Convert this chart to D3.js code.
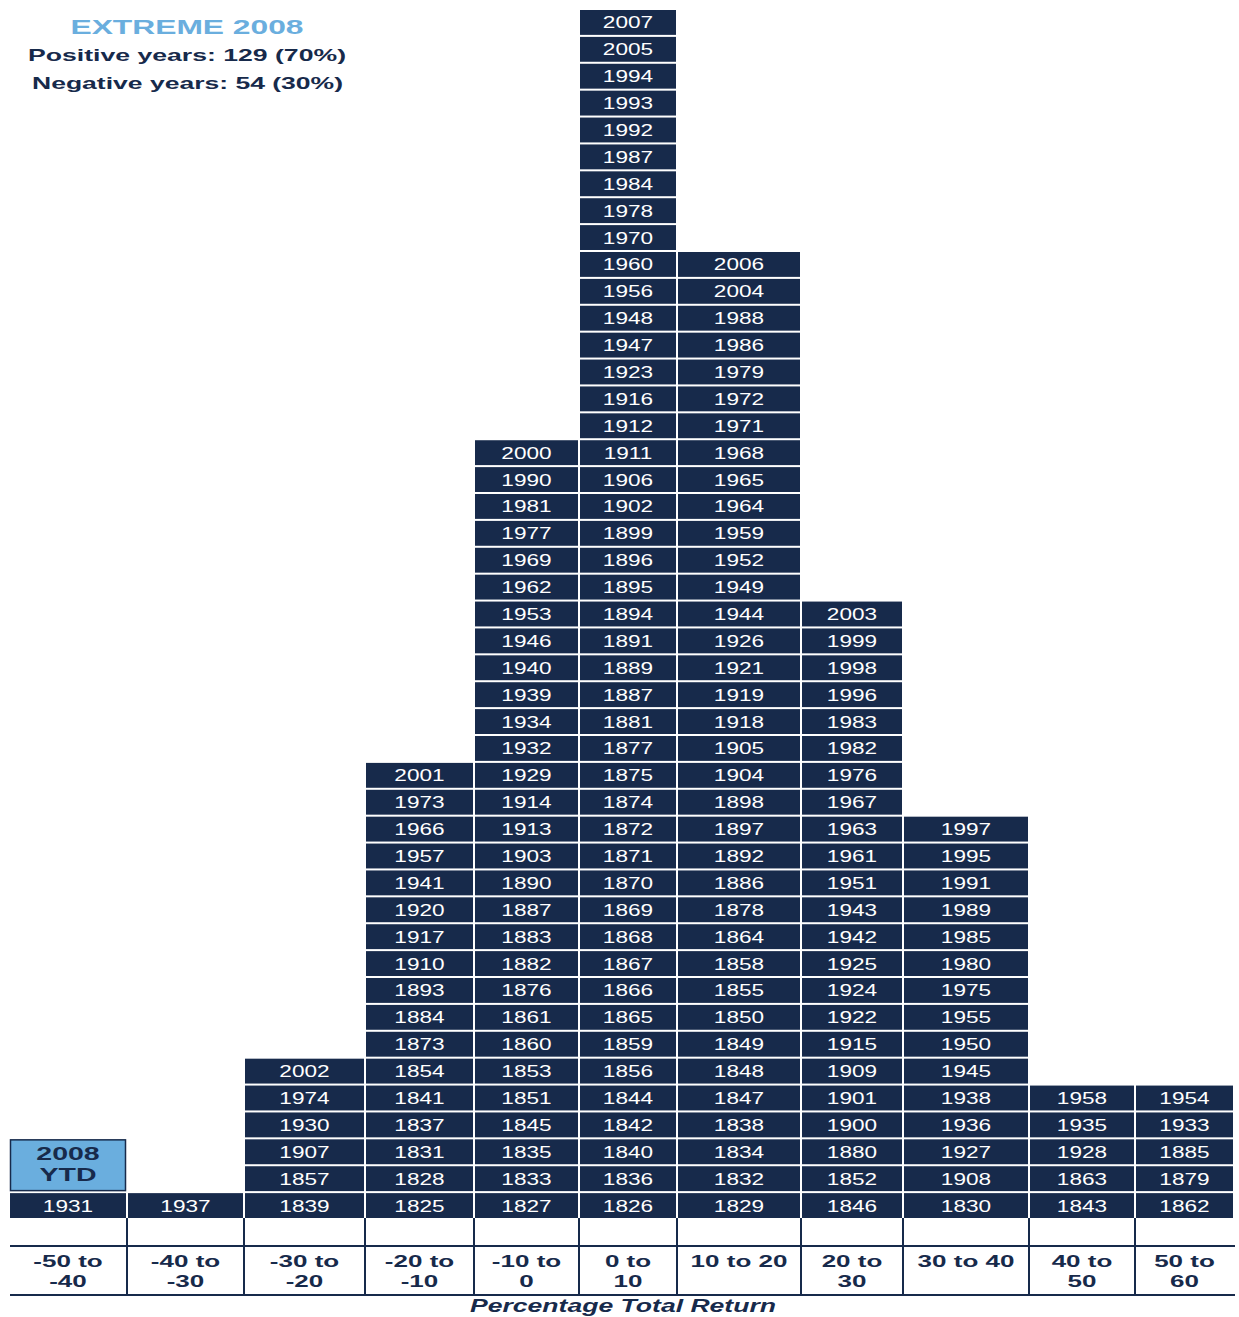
<!DOCTYPE html>
<html><head><meta charset="utf-8">
<script src="https://cdn.jsdelivr.net/npm/d3@7"></script>
<style>html,body{margin:0;padding:0;background:#fff;}svg{display:block;}</style>
</head><body><svg id="chart" width="1239" height="1317"></svg>
<script>
// ---- data ----
const bins = ["-50 to -40","-40 to -30","-30 to -20","-20 to -10","-10 to 0","0 to 10","10 to 20","20 to 30","30 to 40","40 to 50","50 to 60"];
const binLabels = [["-50 to","-40"],["-40 to","-30"],["-30 to","-20"],["-20 to","-10"],["-10 to","0"],["0 to","10"],["10 to 20"],["20 to","30"],["30 to 40"],["40 to","50"],["50 to","60"]];
// years per bin, listed from bottom to top
const yearsM50 = [1931];
const yearsM40 = [1937];
const yearsM30 = [1839,1857,1907,1930,1974,2002];
const yearsM20 = [1825,1828,1831,1837,1841,1854,1873,1884,1893,1910,1917,1920,1941,1957,1966,1973,2001];
const yearsM10 = [1827,1833,1835,1845,1851,1853,1860,1861,1876,1882,1883,1887,1890,1903,1913,1914,1929,1932,1934,1939,1940,1946,1953,1962,1969,1977,1981,1990,2000];
const yearsP0  = [1826,1836,1840,1842,1844,1856,1859,1865,1866,1867,1868,1869,1870,1871,1872,1874,1875,1877,1881,1887,1889,1891,1894,1895,1896,1899,1902,1906,1911,1912,1916,1923,1947,1948,1956,1960,1970,1978,1984,1987,1992,1993,1994,2005,2007];
const yearsP10 = [1829,1832,1834,1838,1847,1848,1849,1850,1855,1858,1864,1878,1886,1892,1897,1898,1904,1905,1918,1919,1921,1926,1944,1949,1952,1959,1964,1965,1968,1971,1972,1979,1986,1988,2004,2006];
const yearsP20 = [1846,1852,1880,1900,1901,1909,1915,1922,1924,1925,1942,1943,1951,1961,1963,1967,1976,1982,1983,1996,1998,1999,2003];
const yearsP30 = [1830,1908,1927,1936,1938,1945,1950,1955,1975,1980,1985,1989,1991,1995,1997];
const yearsP40 = [1843,1863,1928,1935,1958];
const yearsP50 = [1862,1879,1885,1933,1954];
const yearsByBin = [yearsM50,yearsM40,yearsM30,yearsM20,yearsM10,yearsP0,yearsP10,yearsP20,yearsP30,yearsP40,yearsP50];
const highlight = {bin:"-50 to -40", label:["2008","YTD"], rowFrom:1, rowTo:2};
const titleText = "EXTREME 2008";
const positiveText = "Positive years: 129 (70%)";
const negativeText = "Negative years: 54 (30%)";
const axisTitle = "Percentage Total Return";

// ---- layout ----
const NAVY = "#172a4b", LIGHT = "#6aaede";
const colEdges = [10,128,245,366,475,580,678,802,904,1030,1136,1235];
const svg = d3.select("#chart");
const xLeft = d3.scaleOrdinal().domain(bins).range(colEdges.slice(0,-1));
const xWidth = b => colEdges[bins.indexOf(b)+1] - xLeft(b) - 2;
const maxRows = d3.max(yearsByBin, a => a.length);
const y = d3.scaleBand().domain(d3.range(maxRows)).range([1218, 10]).paddingInner(0.075).paddingOuter(0);

const cells = [];
bins.forEach((b,i) => yearsByBin[i].forEach((yr,k) => cells.push({bin:b, row:k, year:yr})));

const g = svg.append("g");
g.selectAll("rect.cell").data(cells).join("rect")
  .attr("class","cell")
  .attr("x", d => xLeft(d.bin)).attr("y", d => y(d.row))
  .attr("width", d => xWidth(d.bin)).attr("height", y.bandwidth())
  .attr("fill", NAVY);
g.selectAll("text.yr").data(cells).join("text")
  .attr("class","yr")
  .attr("transform", d => `translate(${xLeft(d.bin)+xWidth(d.bin)/2},${y(d.row)+y.bandwidth()/2+6}) scale(1.33,1)`)
  .attr("text-anchor","middle")
  .attr("font-family","Liberation Sans, Arial, sans-serif")
  .attr("font-size",17).attr("fill","#fff")
  .text(d => d.year);

// highlight box
const hTop = y(highlight.rowTo), hBot = y(highlight.rowFrom)+y.bandwidth();
g.append("rect").attr("x", xLeft(highlight.bin)+0.5).attr("y", hTop+0.5)
  .attr("width", xWidth(highlight.bin)-1).attr("height", hBot-hTop-1)
  .attr("fill", LIGHT).attr("stroke", NAVY).attr("stroke-width",1.5);
const hc = xLeft(highlight.bin)+xWidth(highlight.bin)/2;
highlight.label.forEach((t,i) => {
  g.append("text").attr("transform", `translate(${hc},${hTop+21+i*21}) scale(1.5,1)`)
   .attr("text-anchor","middle").attr("font-family","Liberation Sans, Arial, sans-serif")
   .attr("font-weight","bold").attr("font-size",19).attr("fill",NAVY).text(t);
});

// axis area
const axisTop = 1218, axisMid = 1246, axisBot = 1295;
const ax = svg.append("g");
colEdges.slice(1,-1).forEach(e => {
  ax.append("line").attr("x1",e-1).attr("x2",e-1).attr("y1",axisTop).attr("y2",axisBot)
    .attr("stroke",NAVY).attr("stroke-width",2);
});
[axisMid, axisBot].forEach(yy => ax.append("line").attr("x1",10).attr("x2",1235)
  .attr("y1",yy).attr("y2",yy).attr("stroke",NAVY).attr("stroke-width",2));
bins.forEach((b,i) => {
  binLabels[i].forEach((t,j) => {
    ax.append("text").attr("transform", `translate(${xLeft(b)+xWidth(b)/2},${1267+j*20}) scale(1.53,1)`)
      .attr("text-anchor","middle").attr("font-family","Liberation Sans, Arial, sans-serif")
      .attr("font-weight","bold").attr("font-size",17).attr("fill",NAVY).text(t);
  });
});
ax.append("text").attr("x",623).attr("y",1312).attr("text-anchor","middle")
  .attr("font-family","Liberation Sans, Arial, sans-serif").attr("font-weight","bold")
  .attr("font-style","italic").attr("font-size",18).attr("fill",NAVY)
  .attr("textLength",306).attr("lengthAdjust","spacingAndGlyphs").text(axisTitle);

// header
const hd = svg.append("g").attr("font-family","Liberation Sans, Arial, sans-serif").attr("font-weight","bold").attr("text-anchor","middle");
hd.append("text").attr("x",187).attr("y",34).attr("font-size",21).attr("fill",LIGHT)
  .attr("textLength",233).attr("lengthAdjust","spacingAndGlyphs").text(titleText);
hd.append("text").attr("x",187).attr("y",61).attr("font-size",16.5).attr("fill",NAVY)
  .attr("textLength",318).attr("lengthAdjust","spacingAndGlyphs").text(positiveText);
hd.append("text").attr("x",187.5).attr("y",89).attr("font-size",16.5).attr("fill",NAVY)
  .attr("textLength",311).attr("lengthAdjust","spacingAndGlyphs").text(negativeText);
</script></body></html>
